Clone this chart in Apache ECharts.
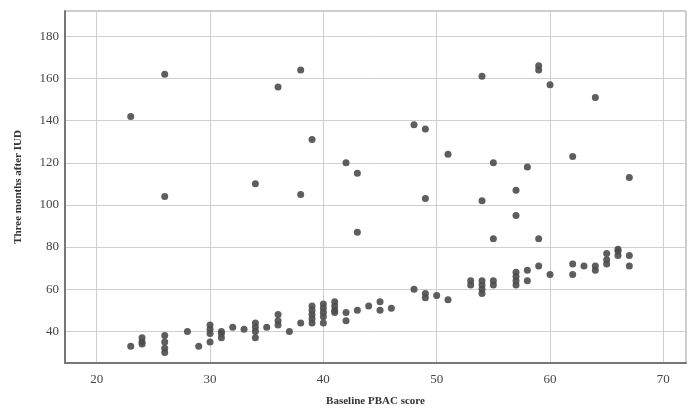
<!DOCTYPE html>
<html>
<head>
<meta charset="utf-8">
<script src="https://cdn.jsdelivr.net/npm/echarts@6/dist/echarts.min.js"></script>
<style>
  html, body { margin: 0; padding: 0; background: #fff; }
  #chart { width: 689px; height: 412px; }
</style>
</head>
<body>
<div id="chart"></div>
<script>
// baseline PBAC score (x) and value three months after IUD (y)
var outlierX = [23, 26, 26, 34, 36, 38, 38, 39, 42, 43, 43, 48, 49, 49, 51, 54, 54, 55, 55, 57, 57, 58, 59, 59, 59, 60, 62, 64, 67];
var outlierY = [142, 162, 104, 110, 156, 164, 105, 131, 120, 115, 87, 138, 136, 103, 124, 161, 102, 120, 84, 107, 95, 118, 164, 166, 84, 157, 123, 151, 113];

var lowX = [23, 24, 24, 24, 26, 26, 26, 26, 28, 29, 30, 30, 30, 30, 31, 31, 31, 32, 33,
  34, 34, 34, 34, 35, 36, 36, 36, 37, 38,
  39, 39, 39, 39, 39, 40, 40, 40, 40, 40, 41, 41, 41, 41, 42, 42, 43, 44, 45, 45, 46,
  48, 49, 49, 50, 51, 53, 53, 54, 54, 54, 54, 55, 55,
  57, 57, 57, 57, 58, 58, 59, 60, 62, 62, 63, 64, 64, 65, 65, 65, 66, 66, 66, 67, 67];
var lowY = [33, 34, 35, 37, 30, 32, 35, 38, 40, 33, 35, 39, 41, 43, 37, 39, 40, 42, 41,
  37, 40, 42, 44, 42, 43, 45, 48, 40, 44,
  44, 46, 48, 50, 52, 44, 47, 49, 51, 53, 49, 50, 52, 54, 45, 49, 50, 52, 50, 54, 51,
  60, 56, 58, 57, 55, 62, 64, 58, 60, 62, 64, 62, 64,
  62, 64, 66, 68, 64, 69, 71, 67, 67, 72, 71, 69, 71, 72, 74, 77, 76, 78, 79, 71, 76];

var xs = outlierX.concat(lowX);
var ys = outlierY.concat(lowY);
var points = xs.map(function (x, i) { return [x, ys[i]]; });

var serif = 'Liberation Serif';
var chart = echarts.init(document.getElementById('chart'));
chart.setOption({
  animation: false,
  grid: {
    left: 65, top: 11, right: 3, bottom: 48,
    show: true, borderColor: '#999', borderWidth: 1
  },
  xAxis: {
    type: 'value',
    min: 17.2, max: 72,
    splitNumber: 5,
    name: 'Baseline PBAC score',
    nameLocation: 'middle',
    nameGap: 33,
    nameTextStyle: { fontFamily: serif, fontWeight: 'bold', fontSize: 11, color: '#333' },
    axisLine: { onZero: false, lineStyle: { color: '#777', width: 2 } },
    axisTick: { show: false },
    axisLabel: { fontFamily: serif, fontSize: 13, color: '#444', margin: 10, showMinLabel: false, showMaxLabel: false },
    splitLine: { show: true, lineStyle: { color: '#cfcfcf', width: 1 } }
  },
  yAxis: {
    type: 'value',
    min: 25, max: 192,
    splitNumber: 8,
    name: 'Three months after IUD',
    nameLocation: 'middle',
    nameGap: 41,
    nameTextStyle: { fontFamily: serif, fontWeight: 'bold', fontSize: 11, color: '#333' },
    axisLine: { onZero: false, lineStyle: { color: '#777', width: 2 } },
    axisTick: { show: false },
    axisLabel: { fontFamily: serif, fontSize: 13, color: '#444', margin: 6, showMinLabel: false, showMaxLabel: false },
    splitLine: { show: true, lineStyle: { color: '#cfcfcf', width: 1 } }
  },
  series: [{
    type: 'scatter',
    data: points,
    symbol: 'circle',
    symbolSize: 7,
    itemStyle: { color: '#4d4d4d', opacity: 0.9 }
  }]
});
</script>
</body>
</html>
